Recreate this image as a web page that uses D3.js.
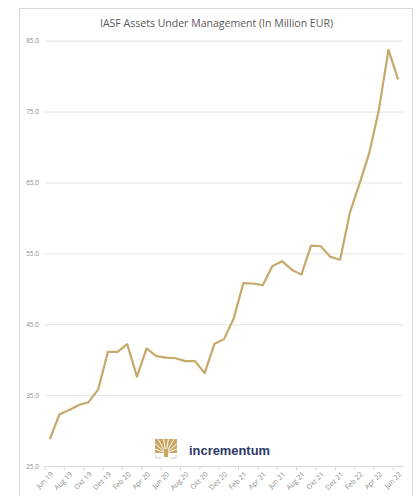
<!DOCTYPE html>
<html>
<head>
<meta charset="utf-8">
<script src="https://cdn.jsdelivr.net/npm/d3@7/dist/d3.min.js"></script>
<style>
  html, body { margin: 0; padding: 0; background: #fff; }
  svg { display: block; }
</style>
</head>
<body>
<script>
const months = ["Jun 19","Jul 19","Aug 19","Sep 19","Okt 19","Nov 19","Dez 19","Jan 20","Feb 20","Mrz 20","Apr 20","Mai 20","Jun 20","Jul 20","Aug 20","Sep 20","Okt 20","Nov 20","Dez 20","Jan 21","Feb 21","Mrz 21","Apr 21","Mai 21","Jun 21","Jul 21","Aug 21","Sep 21","Okt 21","Nov 21","Dez 21","Jan 22","Feb 22","Mrz 22","Apr 22","Mai 22","Jun 22"];
const aum = [28.8,32.3,32.9,33.6,34.0,35.8,41.1,41.1,42.2,37.6,41.6,40.5,40.3,40.2,39.8,39.8,38.1,42.2,42.9,45.8,50.8,50.75,50.5,53.2,53.9,52.7,52.0,56.1,56.0,54.5,54.1,60.7,64.8,69.1,75.2,83.7,79.5];
const yTicks = [25,35,45,55,65,75,85];
const title = "IASF Assets Under Management (In Million EUR)";

const W = 419, H = 496;
const svg = d3.select("body").append("svg").attr("width", W).attr("height", H);

// outer frame
svg.append("rect").attr("x", 19.5).attr("y", 8.5).attr("width", 393).attr("height", 500)
  .attr("fill", "none").attr("stroke", "#d9d9d9").attr("stroke-width", 1);

const mLeft = 45, mRight = 403, mTop = 40.7, mBottom = 466;
const x = d3.scaleBand().domain(months).range([mLeft, mRight]).padding(0);
const y = d3.scaleLinear().domain([25, 85]).range([mBottom, mTop]);

// title
svg.append("text").attr("x", 216.5).attr("y", 26.5).attr("text-anchor", "middle")
  .attr("font-family", "Open Sans, Liberation Sans, sans-serif").attr("font-size", 10.5)
  .attr("fill", "#595959").attr("textLength", 233).attr("lengthAdjust", "spacingAndGlyphs")
  .text(title);

// y axis gridlines + labels
const yAxis = d3.axisLeft(y).tickValues(yTicks).tickSize(-(mRight - mLeft)).tickPadding(6)
  .tickFormat(d3.format(".1f"));
const gy = svg.append("g").attr("transform", `translate(${mLeft},0)`).call(yAxis);
gy.select(".domain").remove();
gy.selectAll(".tick line").attr("stroke-width", 1)
  .attr("stroke", d => d === 25 ? "none" : "#e3e3e3");
gy.selectAll(".tick text").attr("font-family", "Open Sans, Liberation Sans, sans-serif")
  .attr("font-size", 6.5).attr("fill", "#8c8c8c");

// x axis
const xAxis = d3.axisBottom(x).tickValues([]).tickSizeOuter(0);
const gx = svg.append("g").attr("transform", `translate(0,${mBottom})`).call(xAxis);
gx.select(".domain").attr("stroke", "#d9d9d9");
// tick marks at every second category boundary
const bounds = d3.range(0, months.length + 1, 2).map(i => mLeft + i * x.step());
gx.selectAll(".bt").data(bounds).join("line").attr("class", "bt")
  .attr("x1", d => d).attr("x2", d => d).attr("y1", 0).attr("y2", 4)
  .attr("stroke", "#d9d9d9");
// labels
const labelMonths = months.filter((d, i) => i % 2 === 0);
gx.selectAll(".xl").data(labelMonths).join("text").attr("class", "xl")
  .attr("transform", d => `translate(${x(d) + x.bandwidth() / 2 + 2},${7}) rotate(-45)`)
  .attr("text-anchor", "end").attr("dy", "0.35em")
  .attr("font-family", "Open Sans, Liberation Sans, sans-serif").attr("font-size", 7)
  .attr("fill", "#8c8c8c").text(d => d);

// line
const line = d3.line().x((d, i) => x(months[i]) + x.bandwidth() / 2).y(d => y(d));
svg.append("path").datum(aum).attr("d", line).attr("fill", "none")
  .attr("stroke", "#c6a96b").attr("stroke-width", 2.2).attr("stroke-linejoin", "round");

// logo
const logo = svg.append("g").attr("transform", "translate(155,439)");
logo.append("rect").attr("x", 0).attr("y", 0).attr("width", 22).attr("height", 14).attr("fill", "#c9a866");
const rays = [-70,-50,-30,-10,10,30,50,70];
rays.forEach(a => {
  const r = a * Math.PI / 180;
  logo.append("line").attr("x1", 11).attr("y1", 14).attr("x2", 11 + 16 * Math.sin(r)).attr("y2", 14 - 16 * Math.cos(r))
    .attr("stroke", "#fff").attr("stroke-width", 0.9);
});
logo.append("rect").attr("x", 9).attr("y", 10).attr("width", 4).attr("height", 8).attr("fill", "#c9a866");
logo.append("path").attr("d", "M1,16 V19 H6 M21,16 V19 H16").attr("fill", "none").attr("stroke", "#c8c8c8").attr("stroke-width", 1);
svg.append("text").attr("x", 189).attr("y", 455).attr("font-family", "Liberation Sans, Arial, sans-serif")
  .attr("font-weight", "bold").attr("font-size", 13.5).attr("fill", "#2e3a66")
  .attr("textLength", 81).attr("lengthAdjust", "spacingAndGlyphs").text("incrementum");
</script>
</body>
</html>
